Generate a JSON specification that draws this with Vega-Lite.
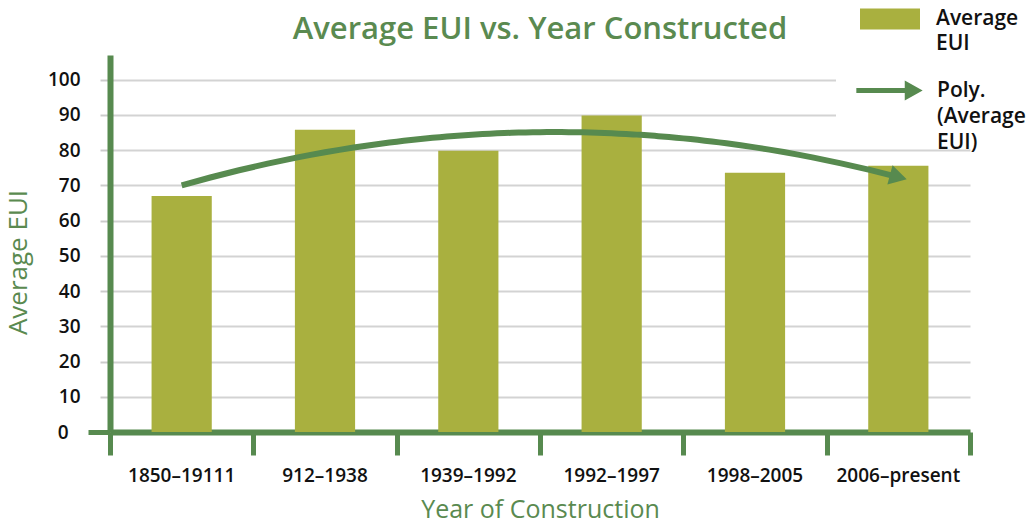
{
  "$schema": "https://vega.github.io/schema/vega-lite/v6.json",
  "width": 860,
  "height": 377,
  "autosize": "none",
  "padding": {"left": 110, "top": 55, "right": 64, "bottom": 93},
  "background": "white",
  "config": {"font": "Open Sans", "view": {"stroke": null}},
  "title": {"text": "Average EUI vs. Year Constructed", "fontSize": 31, "fontWeight": 600, "color": "#5a8a50", "anchor": "middle", "frame": "group", "baseline": "alphabetic", "offset": 15, "dy": 120},
  "data": {"values": [
    {"period": "1850–19111", "idx": 1, "eui": 67},
    {"period": "912–1938", "idx": 2, "eui": 85.8},
    {"period": "1939–1992", "idx": 3, "eui": 79.8},
    {"period": "1992–1997", "idx": 4, "eui": 89.8},
    {"period": "1998–2005", "idx": 5, "eui": 73.6},
    {"period": "2006–present", "idx": 6, "eui": 75.6}
  ]},
  "encoding": {
    "y": {"field": "eui", "type": "quantitative",
      "scale": {"domain": [0, 107], "nice": false},
      "axis": {"title": "Average EUI", "values": [0, 10, 20, 30, 40, 50, 60, 70, 80, 90, 100], "grid": true, "gridColor": "#d3d3d3", "gridWidth": 2, "domainColor": "#578a4f", "domainWidth": 6,
        "tickColor": {"condition": {"test": "datum.value === 0", "value": "#578a4f"}, "value": "#cccccc"},
        "tickSize": {"condition": {"test": "datum.value === 0", "value": 22}, "value": 10},
        "tickWidth": {"condition": {"test": "datum.value === 0", "value": 5}, "value": 2},
        "labelFontSize": 19, "labelFontWeight": 600, "labelColor": "#111111", "labelPadding": 20,
        "titleFontSize": 26, "titleFontWeight": 500, "titleColor": "#5a8a50", "titleX": -92, "titleY": 207, "titleAlign": "center", "titleBaseline": "middle", "titleAngle": -90}}
  },
  "layer": [
    {
      "mark": {"type": "bar", "width": {"band": 0.42}},
      "encoding": {
        "x": {"field": "period", "type": "nominal", "sort": null,
          "scale": {"paddingInner": 0, "paddingOuter": 0},
          "axis": {"title": "Year of Construction", "orient": "bottom", "ticks": false, "domain": false, "labelAngle": 0, "labelFontSize": 19, "labelFontWeight": 600, "labelColor": "#111111", "labelPadding": 34, "titleFontSize": 25, "titleFontWeight": 500, "titleColor": "#5a8a50", "titlePadding": 12, "grid": false}},
        "fill": {"datum": "Average EUI", "type": "nominal", "scale": {"range": ["#a9b03f"]},
          "legend": {"orient": "none", "legendX": 726, "legendY": -90, "title": null, "fillColor": "white", "padding": 24,
            "symbolType": "M-1,-0.35H1V0.35H-1Z", "symbolSize": 3600, "symbolStrokeWidth": 0,
            "labelFontSize": 21, "labelFontWeight": 600, "labelColor": "#111111", "labelOffset": 16, "labelLimit": 300,
            "labelExpr": "['Average','EUI','','']",
            "encode": {"labels": {"update": {"lineHeight": {"value": 25}}}}}}
      }
    },
    {
      "transform": [{"regression": "eui", "on": "idx", "method": "poly", "order": 2}],
      "mark": {"type": "line", "strokeWidth": 6, "strokeCap": "butt"},
      "encoding": {
        "x": {"field": "idx", "type": "quantitative", "scale": {"domain": [0.5, 6.5], "nice": false, "zero": false},
          "axis": {"orient": "bottom", "values": [0.5, 1.5, 2.5, 3.5, 4.5, 5.5, 6.5], "labels": false, "title": null, "grid": false, "tickSize": 23, "tickWidth": 5, "tickColor": "#578a4f", "domainColor": "#578a4f", "domainWidth": 6}},
        "stroke": {"datum": "Poly. (Average EUI)", "type": "nominal", "scale": {"range": ["#578a4f"]},
          "legend": {"orient": "none", "legendX": 746, "legendY": 2, "title": null, "padding": 0,
            "symbolType": "M-1,-0.075H0.46V-0.3L1,0L0.46,0.3V0.075H-1Z", "symbolSize": 4400, "symbolFillColor": "#578a4f", "symbolStrokeWidth": 0,
            "labelFontSize": 21, "labelFontWeight": 600, "labelColor": "#111111", "labelOffset": 14, "labelLimit": 300,
            "labelExpr": "['Poly.','(Average','EUI)']",
            "encode": {"symbols": {"update": {"fill": {"value": "#578a4f"}, "strokeWidth": {"value": 0}, "opacity": {"value": 1}}}, "labels": {"update": {"lineHeight": {"value": 26}}}}}}
      }
    },
    {
      "transform": [
        {"regression": "eui", "on": "idx", "method": "poly", "order": 2},
        {"joinaggregate": [{"op": "max", "field": "idx", "as": "mx"}]},
        {"filter": "datum.idx === datum.mx"}
      ],
      "mark": {"type": "point", "shape": "triangle-right", "filled": true, "fill": "#578a4f", "opacity": 1, "size": 400, "angle": 15},
      "encoding": {
        "x": {"field": "idx", "type": "quantitative", "scale": {"domain": [0.5, 6.5], "nice": false, "zero": false}, "axis": null}
      }
    }
  ],
  "resolve": {"scale": {"x": "independent"}, "axis": {"x": "independent"}}
}
